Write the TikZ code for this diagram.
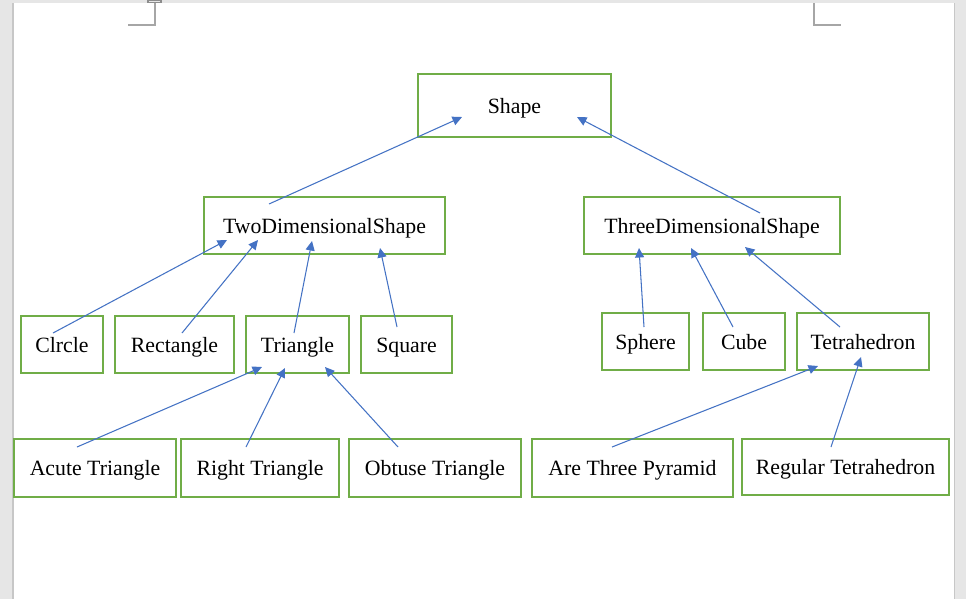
\documentclass[tikz,border=0pt]{standalone}
\usepackage{fontspec}
\setmainfont{Liberation Serif}
\usetikzlibrary{arrows.meta}
\definecolor{boxgreen}{HTML}{70AD47}
\definecolor{linkblue}{HTML}{4472C4}
\definecolor{pagegray}{HTML}{E6E6E6}
\begin{document}
\begin{tikzpicture}[x=0.02cm, y=-0.02cm]
\tikzstyle{box}=[draw=boxgreen, line width=1.1pt, inner sep=0pt, text height=1.0em, text depth=0.1em, font=\fontsize{12.4}{15}\selectfont]
\tikzstyle{link}=[draw=linkblue, line width=0.6pt, -{Triangle[length=0.19cm, width=0.18cm]}, linkblue]

% page
\useasboundingbox (0,0) rectangle (966,599);
\fill[pagegray] (0,0) rectangle (966,599);
\fill[white] (13,3) rectangle (954.5,599);
\draw[black!22, line width=0.6pt] (13,3) -- (13,599) (954.5,3) -- (954.5,599);
\draw[black!35, line width=0.6pt] (128,25) -- (155,25) -- (155,3) (814,3) -- (814,25) -- (841,25);
\draw[black!45, line width=0.6pt] (148,0) rectangle (161,2.5);

\foreach \n/\x/\y/\w/\h/\t in {
  shape/514.5/105.5/3.86/1.26/Shape,
  two/324.5/225.5/4.82/1.14/TwoDimensionalShape,
  three/712/225.5/5.12/1.14/ThreeDimensionalShape,
  circ/62/344.5/1.64/1.14/Clrcle,
  rect/174.5/344.5/2.38/1.14/Rectangle,
  tri/297.5/344.5/2.06/1.14/Triangle,
  square/406.5/344.5/1.82/1.14/Square,
  sphere/645.5/341.5/1.74/1.14/Sphere,
  cube/744/341.5/1.64/1.14/Cube,
  tet/863/341.5/2.64/1.14/Tetrahedron,
  acute/95/468/3.24/1.16/Acute Triangle,
  right/260/468/3.16/1.16/Right Triangle,
  obtuse/435/468/3.44/1.16/Obtuse Triangle,
  pyr/632.5/468/4.02/1.16/Are Three Pyramid,
  reg/845.5/467/4.14/1.12/Regular Tetrahedron} {
\node[box, minimum width=\w cm, minimum height=\h cm] (\n) at (\x,\y) {\t};
}

\foreach \a/\ax/\ay/\b/\bx/\by in {
  two/-55.5/-21.5/shape/-52.5/11.5,
  three/48/-12.5/shape/62.5/11.5,
  circ/-9/-11.5/two/-97.5/14.5,
  rect/7.5/-11.5/two/-66.5/14.5,
  tri/-3.5/-11.5/two/-12.5/15.5,
  square/-9.5/-17.5/two/55.5/22.5,
  sphere/-1.5/-14.5/three/-73/22.5,
  cube/-11/-14.5/three/-21/22.5,
  tet/-23/-14.5/three/33/21.5,
  acute/-18/-21/tri/-35.5/22.5,
  right/-14/-21/tri/-12.5/23.5,
  obtuse/-37/-21/tri/27.5/22.5,
  pyr/-20.5/-21/tet/-45/24.5,
  reg/-14.5/-20/tet/-2/15.5} {
\draw[link] ([shift={(\ax,\ay)}]\a.center) -- ([shift={(\bx,\by)}]\b.center);
}

\end{tikzpicture}
\end{document}
